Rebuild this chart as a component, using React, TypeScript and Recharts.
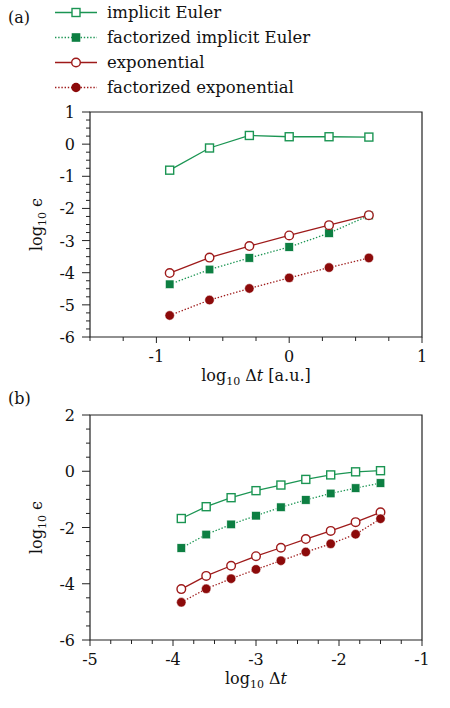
import React from "react";
import {
  LineChart,
  Line,
  XAxis,
  YAxis,
  ReferenceArea,
  Label,
} from "recharts";

// panel (a): log10 dt in a.u.
const dtA = [-0.9, -0.6, -0.3, 0, 0.3, 0.6];
const implicitEulerA = [-0.81, -0.12, 0.27, 0.23, 0.23, 0.22];
const factImplicitEulerA = [-4.36, -3.9, -3.54, -3.2, -2.77, -2.22];
const exponentialA = [-4.01, -3.53, -3.17, -2.84, -2.52, -2.21];
const factExponentialA = [-5.33, -4.85, -4.49, -4.16, -3.84, -3.54];

// panel (b)
const dtB = [-3.9, -3.6, -3.3, -3.0, -2.7, -2.4, -2.1, -1.8, -1.5];
const implicitEulerB = [-1.68, -1.26, -0.94, -0.69, -0.49, -0.29, -0.13, -0.02, 0.02];
const factImplicitEulerB = [-2.73, -2.25, -1.89, -1.58, -1.28, -1.02, -0.79, -0.6, -0.42];
const exponentialB = [-4.19, -3.72, -3.36, -3.02, -2.72, -2.41, -2.12, -1.81, -1.46];
const factExponentialB = [-4.66, -4.18, -3.82, -3.49, -3.18, -2.87, -2.58, -2.24, -1.69];

const legendLabels = [
  "implicit Euler",
  "factorized implicit Euler",
  "exponential",
  "factorized exponential",
];

const FONT = "'DejaVu Serif', serif";
const GREEN = "#1b9553";
const GREEN_DARK = "#0d7f42";
const RED = "#9e1a1a";
const RED_DARK = "#8c0a0a";
const DOTTED = "1.4 1.8";

const range = (a: number, b: number, step: number) => {
  const out: number[] = [];
  const n = Math.round((b - a) / step);
  for (let i = 0; i <= n; i++) out.push(+(a + i * step).toFixed(4));
  return out;
};

const toRows = (xs: number[], ie: number[], fie: number[], ex: number[], fex: number[]) =>
  xs.map((x, i) => ({ x, ie: ie[i], fie: fie[i], ex: ex[i], fex: fex[i] }));

const rowsA = toRows(dtA, implicitEulerA, factImplicitEulerA, exponentialA, factExponentialA);
const rowsB = toRows(dtB, implicitEulerB, factImplicitEulerB, exponentialB, factExponentialB);

const openSquare = (c: string) => (p: any) =>
  <rect key={`os${p.index}`} x={p.cx - 4} y={p.cy - 4} width={8} height={8} fill="#fff" stroke={c} strokeWidth={1.4} />;
const fullSquare = (c: string) => (p: any) =>
  <rect key={`fs${p.index}`} x={p.cx - 4.3} y={p.cy - 4.3} width={8.6} height={8.6} fill={c} stroke="#fff" strokeWidth={0.6} />;
const openCircle = (c: string) => (p: any) =>
  <circle key={`oc${p.index}`} cx={p.cx} cy={p.cy} r={4.3} fill="#fff" stroke={c} strokeWidth={1.4} />;
const fullCircle = (c: string) => (p: any) =>
  <circle key={`fc${p.index}`} cx={p.cx} cy={p.cy} r={4.7} fill={c} stroke="#fff" strokeWidth={0.5} />;

const xTick = (isMajor: (v: number) => boolean) => (p: any) => {
  const v = p.payload.value;
  const major = isMajor(v);
  return (
    <g>
      <line x1={p.x} y1={p.y} x2={p.x} y2={p.y + (major ? 6 : 4)} stroke="#222" />
      {major && (
        <text x={p.x} y={p.y + 25} textAnchor="middle" fontFamily={FONT} fontSize={16} fill="#111">
          {String(v)}
        </text>
      )}
    </g>
  );
};

const yTick = (isMajor: (v: number) => boolean) => (p: any) => {
  const v = p.payload.value;
  const major = isMajor(v);
  return (
    <g>
      <line x1={p.x} y1={p.y} x2={p.x - (major ? 8 : 4)} y2={p.y} stroke="#222" />
      {major && (
        <text x={p.x - 15} y={p.y + 6} textAnchor="end" fontFamily={FONT} fontSize={16} fill="#111">
          {String(v)}
        </text>
      )}
    </g>
  );
};

const yTitle = (props: any) => {
  const vb = props.viewBox;
  const x = vb.x + 12;
  const y = vb.y + vb.height / 2;
  return (
    <text x={x} y={y} transform={`rotate(-90 ${x} ${y})`} textAnchor="middle" fontFamily={FONT} fontSize={16} fill="#111">
      log<tspan dy={4} fontSize={11}>10</tspan>
      <tspan dy={-4}> ϵ</tspan>
    </text>
  );
};

const xTitle = (suffix: string, dy: number) => (props: any) => {
  const vb = props.viewBox;
  return (
    <text x={vb.x + vb.width / 2} y={vb.y + dy} textAnchor="middle" fontFamily={FONT} fontSize={16} fill="#111">
      log<tspan dy={4} fontSize={11}>10</tspan>
      <tspan dy={-4}> Δ</tspan>
      <tspan fontStyle="italic">t</tspan>
      {suffix}
    </text>
  );
};

function Panel({ rows, xDomain, yDomain, xTicks, yTicks, isMajorX, isMajorY, height, margin, suffix, titleDy }: any) {
  return (
    <LineChart width={450} height={height} data={rows} margin={margin}>
      <XAxis
        dataKey="x"
        type="number"
        domain={xDomain}
        ticks={xTicks}
        interval={0}
        allowDataOverflow
        axisLine={false}
        tickLine={false}
        tickSize={0}
        tickMargin={0}
        height={30}
        tick={xTick(isMajorX)}
      >
        <Label content={xTitle(suffix, titleDy)} />
      </XAxis>
      <YAxis
        type="number"
        domain={yDomain}
        ticks={yTicks}
        interval={0}
        allowDataOverflow
        axisLine={false}
        tickLine={false}
        tickSize={0}
        tickMargin={0}
        width={60}
        tick={yTick(isMajorY)}
      >
        <Label content={yTitle} />
      </YAxis>
      <ReferenceArea
        x1={xDomain[0]}
        x2={xDomain[1]}
        y1={yDomain[0]}
        y2={yDomain[1]}
        fill="none"
        fillOpacity={0}
        stroke="#222"
        strokeWidth={1.2}
        ifOverflow="visible"
      />
      <Line dataKey="ie" type="linear" stroke={GREEN} strokeWidth={1.3} dot={openSquare(GREEN)} isAnimationActive={false} />
      <Line dataKey="fie" type="linear" stroke={GREEN} strokeWidth={1.3} strokeDasharray={DOTTED} dot={fullSquare(GREEN_DARK)} isAnimationActive={false} />
      <Line dataKey="ex" type="linear" stroke={RED} strokeWidth={1.3} dot={openCircle(RED)} isAnimationActive={false} />
      <Line dataKey="fex" type="linear" stroke={RED} strokeWidth={1.3} strokeDasharray={DOTTED} dot={fullCircle(RED_DARK)} isAnimationActive={false} />
    </LineChart>
  );
}

const legendGlyphs = [
  { color: GREEN, dash: undefined, mark: (x: number, y: number) => <rect x={x - 4} y={y - 4} width={8} height={8} fill="#fff" stroke={GREEN} strokeWidth={1.4} /> },
  { color: GREEN, dash: DOTTED, mark: (x: number, y: number) => <rect x={x - 4.3} y={y - 4.3} width={8.6} height={8.6} fill={GREEN_DARK} /> },
  { color: RED, dash: undefined, mark: (x: number, y: number) => <circle cx={x} cy={y} r={4.3} fill="#fff" stroke={RED} strokeWidth={1.4} /> },
  { color: RED, dash: DOTTED, mark: (x: number, y: number) => <circle cx={x} cy={y} r={4.7} fill={RED_DARK} /> },
];

export default function App() {
  return (
    <div style={{ position: "absolute", left: 0, top: 0, width: 450, height: 708, background: "#fff" }}>
      <svg width={450} height={100} style={{ position: "absolute", left: 0, top: 0 }}>
        <text x={8} y={23} fontFamily={FONT} fontSize={16} fill="#111">(a)</text>
        {legendLabels.map((name, i) => {
          const y = 12.5 + i * 25;
          const g = legendGlyphs[i];
          return (
            <g key={name}>
              <line x1={55} x2={97} y1={y} y2={y} stroke={g.color} strokeWidth={1.3} strokeDasharray={g.dash} />
              {g.mark(76, y)}
              <text x={107} y={y + 5.5} fontFamily={FONT} fontSize={16.5} fill="#111">{name}</text>
            </g>
          );
        })}
      </svg>
      <div style={{ position: "absolute", left: 0, top: 0 }}>
        <Panel
          rows={rowsA}
          xDomain={[-1.5, 1]}
          yDomain={[-6, 1]}
          xTicks={range(-1.5, 1, 0.25)}
          yTicks={range(-6, 1, 0.25)}
          isMajorX={(v: number) => Number.isInteger(v)}
          isMajorY={(v: number) => Number.isInteger(v)}
          height={400}
          margin={{ top: 112, right: 28, bottom: 33, left: 30 }}
          suffix=" [a.u.]"
          titleDy={44}
        />
      </div>
      <svg width={450} height={30} style={{ position: "absolute", left: 0, top: 383 }}>
        <text x={8} y={21} fontFamily={FONT} fontSize={16} fill="#111">(b)</text>
      </svg>
      <div style={{ position: "absolute", left: 0, top: 400 }}>
        <Panel
          rows={rowsB}
          xDomain={[-5, -1]}
          yDomain={[-6, 2]}
          xTicks={range(-5, -1, 0.25)}
          yTicks={range(-6, 2, 0.5)}
          isMajorX={(v: number) => Number.isInteger(v)}
          isMajorY={(v: number) => Number.isInteger(v) && v % 2 === 0}
          height={308}
          margin={{ top: 15, right: 28, bottom: 38, left: 30 }}
          suffix=""
          titleDy={44}
        />
      </div>
    </div>
  );
}
